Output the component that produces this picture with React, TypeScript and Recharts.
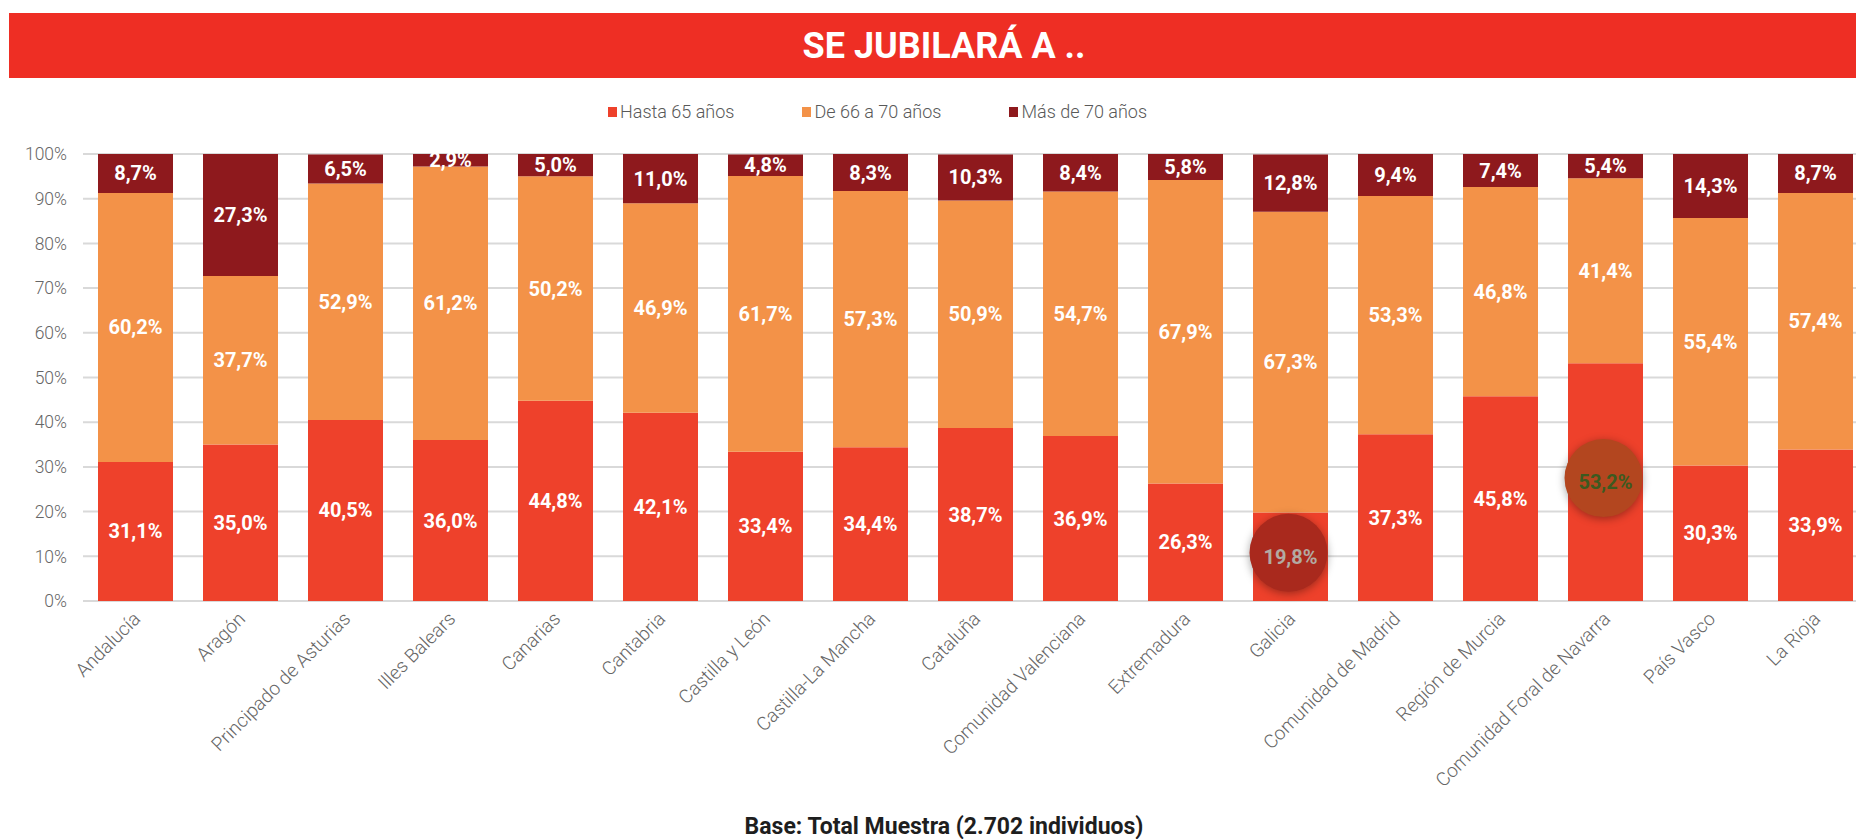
import React from 'react';
import { BarChart, Bar, XAxis, YAxis, CartesianGrid, LabelList } from 'recharts';

const categories = [
  'Andalucía', 'Aragón', 'Principado de Asturias', 'Illes Balears', 'Canarias', 'Cantabria',
  'Castilla y León', 'Castilla-La Mancha', 'Cataluña', 'Comunidad Valenciana', 'Extremadura',
  'Galicia', 'Comunidad de Madrid', 'Región de Murcia', 'Comunidad Foral de Navarra', 'País Vasco', 'La Rioja',
];
const hasta65 = [31.1, 35.0, 40.5, 36.0, 44.8, 42.1, 33.4, 34.4, 38.7, 36.9, 26.3, 19.8, 37.3, 45.8, 53.2, 30.3, 33.9];
const de66a70 = [60.2, 37.7, 52.9, 61.2, 50.2, 46.9, 61.7, 57.3, 50.9, 54.7, 67.9, 67.3, 53.3, 46.8, 41.4, 55.4, 57.4];
const mas70 = [8.7, 27.3, 6.5, 2.9, 5.0, 11.0, 4.8, 8.3, 10.3, 8.4, 5.8, 12.8, 9.4, 7.4, 5.4, 14.3, 8.7];
const yTicks = [0, 10, 20, 30, 40, 50, 60, 70, 80, 90, 100];

// the two marked bars in the source screenshot
const marked = ['Galicia', 'Comunidad Foral de Navarra'];

const series = [
  { key: 'hasta65', name: 'Hasta 65 años', color: '#ee412b' },
  { key: 'de66a70', name: 'De 66 a 70 años', color: '#f39248' },
  { key: 'mas70', name: 'Más de 70 años', color: '#8e191d' },
];

const data = categories.map((name, i) => ({
  name,
  hasta65: hasta65[i],
  de66a70: de66a70[i],
  mas70: mas70[i],
}));

const FONT = 'Roboto, "Noto Sans", sans-serif';
const fmt = (v: number) => v.toFixed(1).replace('.', ',') + '%';

const markStyle: Record<string, { fill: string; text: string }> = {
  'Galicia': { fill: '#a9291d', text: '#b3aaa2' },
  'Comunidad Foral de Navarra': { fill: '#b3461f', text: '#3c5a1f' },
};

const SegmentLabel = (props: any) => {
  const { x, y, width, height, value, index, withMark } = props;
  const cx = x + width / 2;
  const cy = y + height / 2;
  const cat = categories[index];
  const m = withMark && marked.includes(cat) ? markStyle[cat] : null;
  return (
    <g>
      {m && (
        <circle cx={cx - 2} cy={cy - 4} r={39} fill={m.fill}
          style={{ filter: 'drop-shadow(0px 2px 4px rgba(0,0,0,0.35))' }} />
      )}
      <text x={cx} y={cy} textAnchor="middle" dominantBaseline="central"
        fill={m ? m.text : '#ffffff'} fontSize={20} fontWeight={700} fontFamily={FONT}>
        {fmt(value)}
      </text>
    </g>
  );
};

const CategoryTick = (props: any) => {
  const { x, y, payload } = props;
  const tx = x + 6;
  const ty = y + 19;
  return (
    <text x={tx} y={ty} textAnchor="end" fill="#666666" fontSize={19} fontWeight={300}
      fontFamily={FONT} transform={`rotate(-45 ${tx} ${ty})`}>
      {payload.value}
    </text>
  );
};

export default function App() {
  return (
    <div style={{ position: 'fixed', left: 0, top: 0, width: 1856, height: 839, overflow: 'hidden', background: '#fff', fontFamily: FONT }}>
      <div style={{
        position: 'absolute', left: 9, top: 13, width: 1870, height: 65, background: '#ee2e24',
        color: '#fff', fontSize: 36, fontWeight: 700, display: 'flex', alignItems: 'center', justifyContent: 'center',
      }}>
        SE JUBILARÁ A ..
      </div>

      <div style={{ position: 'absolute', left: 608, top: 101, display: 'flex', gap: 68, fontSize: 18, color: '#595959', fontWeight: 300 }}>
        {series.map((s) => (
          <div key={s.key} style={{ display: 'flex', alignItems: 'center' }}>
            <span style={{ display: 'inline-block', width: 9, height: 10, background: s.color, marginRight: 3 }} />
            {s.name}
          </div>
        ))}
      </div>

      <div style={{ position: 'absolute', left: 0, top: 0 }}>
        <BarChart width={1880} height={839} data={data} barCategoryGap={15}
          margin={{ top: 154, right: 12, left: 0, bottom: 0 }}>
          <CartesianGrid vertical={false} stroke="#d9d9d9" strokeWidth={2} />
          <XAxis dataKey="name" interval={0} height={238} axisLine={false} tickLine={false}
            tickSize={0} tickMargin={0} tick={<CategoryTick />} />
          <YAxis width={83} domain={[0, 100]} ticks={yTicks} allowDataOverflow axisLine={false} tickLine={false}
            tickSize={0} tickMargin={16} tickFormatter={(v: number) => v + '%'}
            tick={{ fill: '#666666', fontSize: 17.5, fontWeight: 300, fontFamily: FONT }} />
          {series.map((s, si) => (
            <Bar key={s.key} dataKey={s.key} name={s.name} stackId="a" fill={s.color} isAnimationActive={false}>
              <LabelList dataKey={s.key} content={<SegmentLabel withMark={si === 0} />} />
            </Bar>
          ))}
        </BarChart>
      </div>

      <div style={{ position: 'absolute', left: 0, width: 1888, top: 813, textAlign: 'center', fontSize: 23, fontWeight: 700, color: '#1e1e1e' }}>
        Base: Total Muestra (2.702 individuos)
      </div>
    </div>
  );
}
